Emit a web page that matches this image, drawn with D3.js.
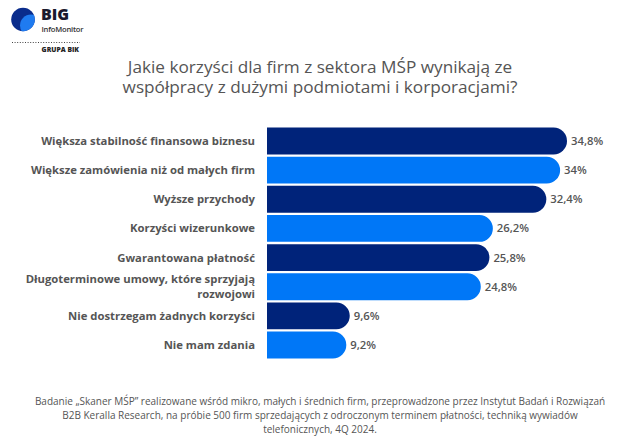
<!DOCTYPE html>
<html><head><meta charset="utf-8">
<script src="https://cdn.jsdelivr.net/npm/d3@7/dist/d3.min.js"></script>
<style>body{margin:0;background:#fff;} svg{display:block;}</style>
</head><body>
<script>
const categories = [
  ["Większa stabilność finansowa biznesu"],
  ["Większe zamówienia niż od małych firm"],
  ["Wyższe przychody"],
  ["Korzyści wizerunkowe"],
  ["Gwarantowana płatność"],
  ["Długoterminowe umowy, które sprzyjają", "rozwojowi"],
  ["Nie dostrzegam żadnych korzyści"],
  ["Nie mam zdania"]
];
const values = [34.8, 34, 32.4, 26.2, 25.8, 24.8, 9.6, 9.2];
const valueLabels = ["34,8%", "34%", "32,4%", "26,2%", "25,8%", "24,8%", "9,6%", "9,2%"];
const titleLines = ["Jakie korzyści dla firm z sektora MŚP wynikają ze", "współpracy z dużymi podmiotami i korporacjami?"];
const footLines = [
  "Badanie „Skaner MŚP” realizowane wśród mikro, małych i średnich firm, przeprowadzone przez Instytut Badań i Rozwiązań",
  "B2B Keralla Research, na próbie 500 firm sprzedających z odroczonym terminem płatności, techniką wywiadów",
  "telefonicznych, 4Q 2024."
];

const W = 640, H = 448;
const dark = "#00237A", bright = "#0077F7", textGray = "#555555";
const svg = d3.select("body").append("svg").attr("width", W).attr("height", H);

// Logo
const logo = svg.append("g");
const defs = svg.append("defs");
defs.append("clipPath").attr("id", "lc").append("circle").attr("cx", 23).attr("cy", 19.5).attr("r", 11.8);
logo.append("circle").attr("cx", 23).attr("cy", 19.5).attr("r", 11.8).attr("fill", "#0A2C8C");
logo.append("circle").attr("cx", 31).attr("cy", 25.5).attr("r", 11).attr("fill", "#1F7BF0").attr("clip-path", "url(#lc)");
logo.append("text").attr("x", 41).attr("y", 20).attr("font-family", "Open Sans, sans-serif").attr("font-weight", 800)
  .attr("font-size", 16).attr("fill", "#1a1a2e").text("BIG");
logo.append("text").attr("x", 41.5).attr("y", 31.5).attr("font-family", "Open Sans, sans-serif").attr("font-weight", 600)
  .attr("font-size", 7.6).attr("fill", "#333").attr("letter-spacing", -0.2).text("InfoMonitor");
logo.append("line").attr("x1", 12).attr("x2", 80).attr("y1", 42.5).attr("y2", 42.5)
  .attr("stroke", "#444").attr("stroke-width", 1).attr("stroke-dasharray", "1,1.6");
logo.append("text").attr("x", 79).attr("y", 52).attr("text-anchor", "end").attr("font-family", "Open Sans, sans-serif")
  .attr("font-weight", 800).attr("font-size", 6.8).attr("fill", "#222").text("GRUPA BIK");

// Title
svg.append("g").selectAll("text").data(titleLines).join("text")
  .attr("x", 320).attr("y", (d, i) => 73 + i * 19.5)
  .attr("text-anchor", "middle").attr("font-family", "Open Sans, sans-serif")
  .attr("font-size", 17.2).attr("fill", textGray).text(d => d);

// Scales
const x = d3.scaleLinear().domain([0, 34.8]).range([267, 567]);
const y = d3.scaleBand().domain(d3.range(values.length)).range([127, 359]).paddingInner(0.08).paddingOuter(0.02);
const bh = y.bandwidth();
const r = bh / 2;

function barPath(x0, x1, y0, h) {
  const rr = Math.min(r, (x1 - x0));
  return `M${x0},${y0}H${x1 - rr}A${rr},${rr} 0 0 1 ${x1},${y0 + rr}V${y0 + h - rr}A${rr},${rr} 0 0 1 ${x1 - rr},${y0 + h}H${x0}Z`;
}

const g = svg.append("g");
g.selectAll("path.bar").data(values).join("path").attr("class", "bar")
  .attr("d", (d, i) => barPath(x(0), x(d), y(i), bh))
  .attr("fill", (d, i) => i % 2 === 0 ? dark : bright);

g.selectAll("text.val").data(values).join("text").attr("class", "val")
  .attr("x", d => x(d) + 4).attr("y", (d, i) => y(i) + bh / 2 + 4)
  .attr("font-family", "Open Sans, sans-serif").attr("font-weight", 600).attr("font-size", 11.3)
  .attr("fill", textGray).text((d, i) => valueLabels[i]);

const lab = g.selectAll("text.cat").data(categories).join("text").attr("class", "cat")
  .attr("text-anchor", "end").attr("font-family", "Open Sans, sans-serif").attr("font-weight", 700)
  .attr("font-size", 11.3).attr("fill", textGray);
lab.each(function(d, i) {
  const t = d3.select(this);
  const lh = 15;
  const y0 = y(i) + bh / 2 + 4 - (d.length - 1) * lh / 2;
  d.forEach((line, j) => t.append("tspan").attr("x", 255).attr("y", y0 + j * lh).text(line));
});

// Footnote
svg.append("g").selectAll("text").data(footLines).join("text")
  .attr("x", 320).attr("y", (d, i) => 405 + i * 14)
  .attr("text-anchor", "middle").attr("font-family", "Open Sans, sans-serif")
  .attr("font-size", 10).attr("fill", textGray).text(d => d);
</script>
</body></html>
